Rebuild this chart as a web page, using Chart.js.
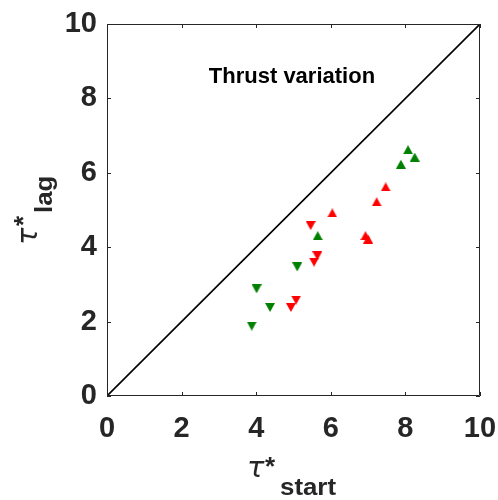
<!DOCTYPE html>
<html>
<head>
<meta charset="utf-8">
<script src="https://cdn.jsdelivr.net/npm/chart.js@4/dist/chart.umd.min.js"></script>
<style>
  html, body { margin: 0; padding: 0; background: #fff; }
  #wrap { width: 498px; height: 500px; position: relative; }
</style>
</head>
<body>
<div id="wrap"><canvas id="c" width="498" height="500"></canvas></div>
<script>
// ---- data ----
const greenDownX = [3.88, 4.01, 4.37, 5.10];
const greenDownY = [1.88, 2.88, 2.38, 3.47];
const greenUpX   = [5.65, 7.88, 8.07, 8.25];
const greenUpY   = [4.31, 6.23, 6.62, 6.42];
const redDownX   = [4.93, 5.07, 5.46, 5.55, 5.64];
const redDownY   = [2.38, 2.58, 4.58, 3.60, 3.77];
const redUpX     = [6.04, 6.93, 7.00, 7.23, 7.47];
const redUpY     = [4.92, 4.31, 4.22, 5.22, 5.62];
const diagX = [0, 10];
const diagY = [0, 10];
const tickValues = [0, 2, 4, 6, 8, 10];
const annotationText = 'Thrust variation';

function pts(xs, ys) { return xs.map((x, i) => ({ x: x, y: ys[i] })); }

function makeTri(color, up) {
  const w = 10, h = 9;
  const c = document.createElement('canvas');
  c.width = w; c.height = h;
  const g = c.getContext('2d');
  g.fillStyle = color;
  g.beginPath();
  if (up) {
    g.moveTo(w / 2, 0); g.lineTo(w, h); g.lineTo(0, h);
  } else {
    g.moveTo(0, 0); g.lineTo(w, 0); g.lineTo(w / 2, h);
  }
  g.closePath();
  g.fill();
  return c;
}
const GREEN = '#008000', RED = '#ff0000', AXC = '#262626';

const framePlugin = {
  id: 'frame',
  afterDraw(chart) {
    const ctx = chart.ctx;
    const a = chart.chartArea;
    const xs = chart.scales.x, ys = chart.scales.y;
    ctx.save();
    ctx.strokeStyle = AXC;
    ctx.lineWidth = 1;
    ctx.beginPath();
    ctx.rect(Math.round(a.left) + 0.5, Math.round(a.top) + 0.5,
             Math.round(a.right - a.left) - 1, Math.round(a.bottom - a.top) - 1);
    ctx.stroke();
    const tl = 4;
    ctx.beginPath();
    tickValues.forEach(v => {
      const px = Math.round(xs.getPixelForValue(v)) + 0.5;
      ctx.moveTo(px, a.bottom); ctx.lineTo(px, a.bottom - tl);
      ctx.moveTo(px, a.top); ctx.lineTo(px, a.top + tl);
      const py = Math.round(ys.getPixelForValue(v)) + 0.5;
      ctx.moveTo(a.left, py); ctx.lineTo(a.left + tl, py);
      ctx.moveTo(a.right, py); ctx.lineTo(a.right - tl, py);
    });
    ctx.stroke();

    // annotation
    ctx.fillStyle = '#000';
    ctx.font = 'bold 22px "Liberation Sans", Arial, sans-serif';
    ctx.textBaseline = 'alphabetic';
    ctx.textAlign = 'left';
    ctx.fillText(annotationText, xs.getPixelForValue(2.73), ys.getPixelForValue(8.41));

    // axis titles
    ctx.fillStyle = AXC;
    const drawTitle = (subText, tau, star, sub) => {
      ctx.font = 'italic 29px "DejaVu Sans", sans-serif';
      ctx.fillText('\u03C4', tau[0], tau[1]);
      ctx.font = 'bold 26px "Liberation Sans", Arial, sans-serif';
      ctx.fillText('*', star[0], star[1]);
      ctx.save();
      ctx.translate(sub[0], sub[1]);
      ctx.scale(1.1, 1);
      ctx.font = 'bold 23.5px "Liberation Sans", Arial, sans-serif';
      ctx.fillText(subText, 0, 0);
      ctx.restore();
    };
    // x title
    drawTitle('start', [247, 477], [265, 475], [280, 495]);
    // y title (rotated)
    ctx.save();
    ctx.rotate(-Math.PI / 2);
    drawTitle('lag', [-245, 37], [-226, 32], [-213, 52]);
    ctx.restore();
    ctx.restore();
  }
};

const tickFont = { family: '"Liberation Sans", Arial, sans-serif', size: 29, weight: 'bold' };
function zeroPad(s) { s.paddingLeft = 0; s.paddingRight = 0; s.paddingTop = 0; s.paddingBottom = 0; }

new Chart(document.getElementById('c'), {
  type: 'scatter',
  data: {
    datasets: [
      { label: 'diag', type: 'line', data: pts(diagX, diagY), borderColor: '#000', borderWidth: 1.6,
        pointRadius: 0, showLine: true, fill: false, order: 5 },
      { label: 'green down', data: pts(greenDownX, greenDownY), pointStyle: makeTri(GREEN, false), order: 1 },
      { label: 'green up', data: pts(greenUpX, greenUpY), pointStyle: makeTri(GREEN, true), order: 1 },
      { label: 'red down', data: pts(redDownX, redDownY), pointStyle: makeTri(RED, false), order: 1 },
      { label: 'red up', data: pts(redUpX, redUpY), pointStyle: makeTri(RED, true), order: 1 }
    ]
  },
  options: {
    responsive: false,
    animation: false,
    events: [],
    layout: { padding: { left: 0, top: 24, right: 18, bottom: 0 } },
    plugins: { legend: { display: false }, tooltip: { enabled: false } },
    scales: {
      x: {
        type: 'linear', min: 0, max: 10,
        afterFit(s) { s.height = 104; zeroPad(s); },
        grid: { display: false, drawTicks: false },
        border: { display: false },
        ticks: { stepSize: 2, font: tickFont, color: AXC, padding: 16, maxRotation: 0, autoSkip: false }
      },
      y: {
        type: 'linear', min: 0, max: 10,
        afterFit(s) { s.width = 107; zeroPad(s); },
        grid: { display: false, drawTicks: false },
        border: { display: false },
        ticks: { stepSize: 2, font: tickFont, color: AXC, padding: 10, autoSkip: false }
      }
    }
  },
  plugins: [framePlugin]
});
</script>
</body>
</html>
